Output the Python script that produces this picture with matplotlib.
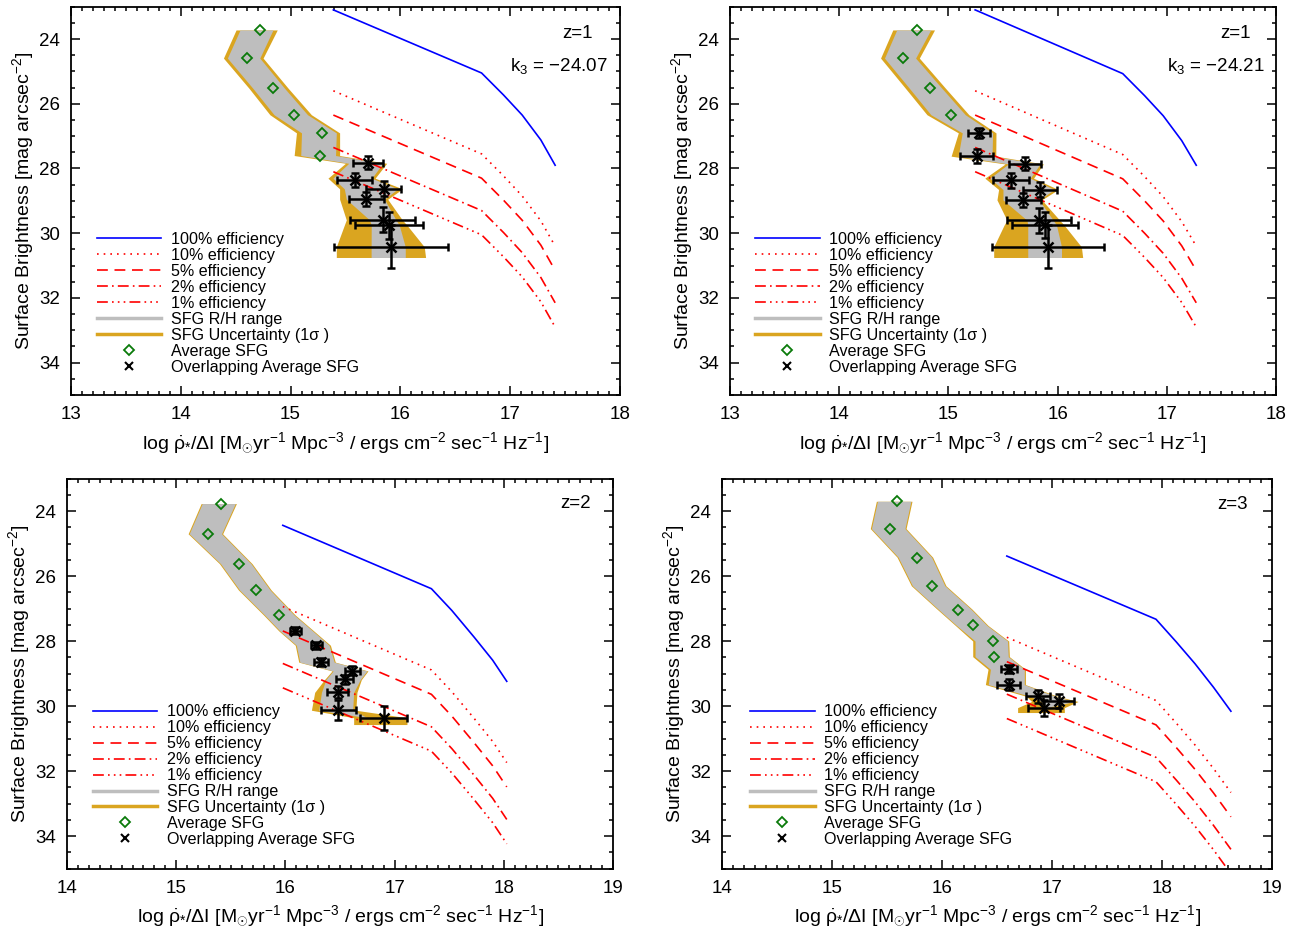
import numpy as np
import matplotlib
matplotlib.use("Agg")
import matplotlib.pyplot as plt
from matplotlib.lines import Line2D
from matplotlib.ticker import MultipleLocator

plt.rcParams['font.family'] = ['Liberation Sans', 'DejaVu Sans']
plt.rcParams['mathtext.fontset'] = 'custom'
plt.rcParams['mathtext.rm'] = 'Liberation Sans'
plt.rcParams['mathtext.it'] = 'Liberation Sans:italic'
plt.rcParams['mathtext.bf'] = 'Liberation Sans:bold'

# efficiency curves: 100% curve per panel, other curves are the same shape shifted down in mag
EFF_LABELS = ['100% efficiency', '10% efficiency', '5% efficiency', '2% efficiency', '1% efficiency']
EFF_OFFSET = [0.0, 2.5, 3.25, 4.25, 5.0]

# ---- panel 1 (top left, z=1, k3=-24.07)
TL_EFF_X = [15.39, 16.74, 16.94, 17.11, 17.28, 17.41]
TL_EFF_Y = [23.10, 25.05, 25.73, 26.35, 27.12, 27.90]
TL_SB = [23.72, 24.59, 25.52, 26.34, 26.90, 27.60, 27.84, 28.30, 28.63, 28.95, 29.59, 29.75, 30.42, 30.75]
TL_GOLD_L = [14.504, 14.389, 14.621, 14.812, 15.054, 15.033, 15.50, 15.341, 15.447, 15.447, 15.508, 15.49, 15.417, 15.417]
TL_GRAY_L = [14.54, 14.425, 14.656, 14.85, 15.10, 15.093, 15.53, 15.386, 15.49, 15.508, 15.72, 15.735, 15.734, 15.734]
TL_GRAY_R = [14.84, 14.72, 14.945, 15.155, 15.417, 15.41, 15.84, 15.74, 15.976, 15.855, 15.96, 15.99, 16.045, 16.045]
TL_GOLD_R = [14.879, 14.75, 14.978, 15.19, 15.447, 15.447, 15.876, 15.77, 16.02, 15.885, 16.018, 16.06, 16.218, 16.23]
TL_AVG_X = [14.722, 14.601, 14.843, 15.033, 15.29, 15.272]
TL_AVG_Y = [23.72, 24.59, 25.52, 26.34, 26.90, 27.62]
TL_OV_X = [15.704, 15.583, 15.849, 15.69, 15.84, 15.894, 15.915]
TL_OV_Y = [27.82, 28.36, 28.63, 28.95, 29.59, 29.75, 30.42]
TL_OV_XE = [0.136, 0.163, 0.159, 0.162, 0.295, 0.31, 0.52]
TL_OV_YE = [0.196, 0.227, 0.23, 0.22, 0.386, 0.42, 0.67]

# ---- panel 2 (top right, z=1, k3=-24.21)
TR_EFF_X = [15.245, 16.597, 16.797, 16.967, 17.137, 17.27]
TR_EFF_Y = [23.10, 25.07, 25.75, 26.37, 27.14, 27.90]
TR_SB = [23.72, 24.59, 25.52, 26.34, 26.90, 27.62, 27.86, 28.30, 28.65, 28.97, 29.60, 29.75, 30.42, 30.75]
TR_GOLD_L = [14.491, 14.379, 14.606, 14.804, 15.091, 15.025, 15.52, 15.334, 15.46, 15.445, 15.536, 15.51, 15.415, 15.415]
TR_GRAY_L = [14.527, 14.415, 14.642, 14.84, 15.127, 15.09, 15.55, 15.38, 15.50, 15.50, 15.72, 15.727, 15.727, 15.727]
TR_GRAY_R = [14.838, 14.70, 14.94, 15.155, 15.405, 15.40, 15.84, 15.75, 15.97, 15.83, 15.96, 15.99, 16.036, 16.036]
TR_GOLD_R = [14.873, 14.734, 14.973, 15.188, 15.436, 15.434, 15.87, 15.78, 16.006, 15.855, 16.02, 16.06, 16.218, 16.23]
TR_AVG_X = [14.713, 14.588, 14.831, 15.025]
TR_AVG_Y = [23.72, 24.59, 25.52, 26.34]
TR_OV_X = [15.279, 15.258, 15.703, 15.576, 15.843, 15.685, 15.827, 15.885, 15.912]
TR_OV_Y = [26.90, 27.62, 27.86, 28.37, 28.65, 28.97, 29.60, 29.75, 30.42]
TR_OV_XE = [0.10, 0.15, 0.144, 0.164, 0.156, 0.159, 0.294, 0.30, 0.51]
TR_OV_YE = [0.15, 0.21, 0.20, 0.23, 0.23, 0.22, 0.39, 0.41, 0.66]

# ---- panel 3 (bottom left, z=2)
BL_EFF_X = [15.976, 17.337, 17.524, 17.728, 17.898, 18.027]
BL_EFF_Y = [24.44, 26.39, 27.06, 27.88, 28.59, 29.24]
BL_SB = [23.77, 24.70, 25.62, 26.43, 27.20, 27.69, 28.13, 28.65, 28.92, 29.19, 29.58, 30.13, 30.36, 30.57]
BL_GOLD_L = [15.228, 15.109, 15.396, 15.57, 15.80, 15.94, 16.09, 16.122, 16.427, 16.357, 16.268, 16.238, 16.625, 16.625]
BL_GRAY_L = [15.238, 15.119, 15.406, 15.58, 15.81, 15.95, 16.10, 16.132, 16.437, 16.37, 16.33, 16.305, 16.75, 16.75]
BL_GRAY_R = [15.541, 15.415, 15.685, 15.86, 16.08, 16.25, 16.40, 16.447, 16.746, 16.685, 16.625, 16.616, 16.75, 16.75]
BL_GOLD_R = [15.551, 15.425, 15.695, 15.87, 16.09, 16.26, 16.412, 16.457, 16.756, 16.695, 16.655, 16.645, 17.113, 17.113]
BL_AVG_X = [15.411, 15.292, 15.573, 15.735, 15.939]
BL_AVG_Y = [23.77, 24.70, 25.62, 26.43, 27.20]
BL_OV_X = [16.091, 16.284, 16.326, 16.613, 16.543, 16.479, 16.482, 16.899]
BL_OV_Y = [27.68, 28.13, 28.64, 28.91, 29.18, 29.57, 30.12, 30.36]
BL_OV_XE = [0.049, 0.049, 0.063, 0.066, 0.079, 0.095, 0.16, 0.213]
BL_OV_YE = [0.11, 0.10, 0.12, 0.14, 0.15, 0.19, 0.31, 0.37]

# ---- panel 4 (bottom right, z=3)
BR_EFF_X = [16.589, 17.945, 18.13, 18.30, 18.467, 18.626]
BR_EFF_Y = [25.385, 27.33, 28.03, 28.70, 29.42, 30.16]
BR_SB = [23.70, 24.54, 25.42, 26.30, 27.02, 27.52, 28.00, 28.48, 28.87, 29.34, 29.70, 29.86, 30.05, 30.20]
BR_GOLD_L = [15.403, 15.348, 15.591, 15.721, 15.955, 16.121, 16.279, 16.279, 16.418, 16.394, 16.765, 16.815, 16.687, 16.687]
BR_GRAY_L = [15.413, 15.358, 15.601, 15.731, 15.965, 16.131, 16.30, 16.30, 16.44, 16.42, 16.80, 16.90, 16.95, 16.95]
BR_GRAY_R = [15.717, 15.663, 15.905, 16.026, 16.263, 16.408, 16.596, 16.602, 16.748, 16.748, 17.03, 17.20, 16.95, 16.95]
BR_GOLD_R = [15.727, 15.673, 15.915, 16.036, 16.273, 16.418, 16.606, 16.612, 16.758, 16.758, 17.05, 17.237, 17.112, 17.112]
BR_AVG_X = [15.591, 15.529, 15.773, 15.905, 16.142, 16.282, 16.467, 16.47]
BR_AVG_Y = [23.70, 24.54, 25.43, 26.30, 27.03, 27.52, 27.99, 28.49]
BR_OV_X = [16.606, 16.606, 16.873, 17.061, 16.925]
BR_OV_Y = [28.87, 29.34, 29.70, 29.85, 30.05]
BR_OV_XE = [0.074, 0.103, 0.112, 0.143, 0.148]
BR_OV_YE = [0.128, 0.164, 0.195, 0.205, 0.246]

GOLD = '#DAA520'
GRAY = '#BEBEBE'
GREEN = '#0A7A0A'
EFF_STYLES = [('#0000FF', '-'),
              ('#FF0000', (0, (1, 3))),
              ('#FF0000', (0, (6.5, 4))),
              ('#FF0000', (0, (6.5, 2.5, 1, 2.5))),
              ('#FF0000', (0, (6.5, 2.5, 1, 2.5, 1, 2.5, 1, 2.5)))]

XLAB = r'log $\dot{\mathrm{\rho}}_{*}$/ΔI [M$_{\odot}$yr$^{-1}$ Mpc$^{-3}$ / ergs cm$^{-2}$ sec$^{-1}$ Hz$^{-1}$]'
YLAB = r'Surface Brightness [mag arcsec$^{-2}$]'


def draw_panel(ax, xlim, sb, gold_l, gray_l, gray_r, gold_r, eff_x, eff_y,
               avg_x, avg_y, ov_x, ov_y, ov_xe, ov_ye, notes, leg_anchor):
    ax.fill_betweenx(sb, gold_l, gold_r, color=GOLD, lw=0, zorder=1)
    ax.fill_betweenx(sb, gray_l, gray_r, color=GRAY, lw=0, zorder=2)
    for (c, ls), off in zip(EFF_STYLES, EFF_OFFSET):
        ax.plot(eff_x, np.array(eff_y) + off, color=c, ls=ls, lw=1.2, zorder=3)
    ax.plot(avg_x, avg_y, ls='none', marker='D', ms=5.5, mfc='none',
            mec=GREEN, mew=1.3, zorder=4)
    ax.errorbar(ov_x, ov_y, xerr=ov_xe, yerr=ov_ye, fmt='x', color='k', ms=7,
                mew=1.8, elinewidth=1.8, capsize=3, capthick=1.8, zorder=5)

    ax.set_xlim(*xlim)
    ax.set_ylim(35, 23)
    ax.xaxis.set_major_locator(MultipleLocator(1))
    ax.xaxis.set_minor_locator(MultipleLocator(0.1))
    ax.yaxis.set_major_locator(MultipleLocator(2))
    ax.yaxis.set_minor_locator(MultipleLocator(0.5))
    ax.tick_params(which='both', direction='in', top=True, right=True, width=1.1)
    ax.tick_params(which='major', length=6.5, labelsize=13.5, pad=8)
    ax.tick_params(which='minor', length=3)
    for s in ax.spines.values():
        s.set_linewidth(1.3)
    ax.set_xlabel(XLAB, fontsize=14, labelpad=5)
    ax.set_ylabel(YLAB, fontsize=14, labelpad=2)

    for tx, ty, txt in notes:
        ax.text(tx, ty, txt, transform=ax.transAxes, ha='right', va='center', fontsize=13.5)

    handles = [Line2D([], [], color=c, ls=ls, lw=1.2) for c, ls in EFF_STYLES]
    handles += [Line2D([], [], color=GRAY, lw=2.5),
                Line2D([], [], color=GOLD, lw=2.5),
                Line2D([], [], ls='none', marker='D', ms=5, mfc='none', mec=GREEN, mew=1.3),
                Line2D([], [], ls='none', marker='x', ms=6, mec='k', mew=1.5)]
    labels = EFF_LABELS + ['SFG R/H range', 'SFG Uncertainty (1σ )', 'Average SFG',
                           'Overlapping Average SFG']
    ax.legend(handles, labels, loc='lower left', bbox_to_anchor=leg_anchor,
              frameon=False, borderpad=0, borderaxespad=0, handlelength=4.0,
              handletextpad=0.6, labelspacing=0.06, fontsize=11.6)


fig = plt.figure(figsize=(13.04, 9.35), dpi=100)
ax1 = fig.add_axes([0.0544, 0.5775, 0.4210, 0.4154])
ax2 = fig.add_axes([0.5598, 0.5775, 0.4187, 0.4154])
ax3 = fig.add_axes([0.0514, 0.0711, 0.4187, 0.4171])
ax4 = fig.add_axes([0.5537, 0.0711, 0.4218, 0.4171])

draw_panel(ax1, (13, 18), TL_SB, TL_GOLD_L, TL_GRAY_L, TL_GRAY_R, TL_GOLD_R,
           TL_EFF_X, TL_EFF_Y, TL_AVG_X, TL_AVG_Y, TL_OV_X, TL_OV_Y, TL_OV_XE, TL_OV_YE,
           [(0.951, 0.932, 'z=1'), (0.977, 0.847, 'k$_3$ = −24.07')], (0.047, 0.052))
draw_panel(ax2, (13, 18), TR_SB, TR_GOLD_L, TR_GRAY_L, TR_GRAY_R, TR_GOLD_R,
           TR_EFF_X, TR_EFF_Y, TR_AVG_X, TR_AVG_Y, TR_OV_X, TR_OV_Y, TR_OV_XE, TR_OV_YE,
           [(0.954, 0.932, 'z=1'), (0.980, 0.847, 'k$_3$ = −24.21')], (0.046, 0.052))
draw_panel(ax3, (14, 19), BL_SB, BL_GOLD_L, BL_GRAY_L, BL_GRAY_R, BL_GOLD_R,
           BL_EFF_X, BL_EFF_Y, BL_AVG_X, BL_AVG_Y, BL_OV_X, BL_OV_Y, BL_OV_XE, BL_OV_YE,
           [(0.959, 0.936, 'z=2')], (0.0476, 0.055))
draw_panel(ax4, (14, 19), BR_SB, BR_GOLD_L, BR_GRAY_L, BR_GRAY_R, BR_GOLD_R,
           BR_EFF_X, BR_EFF_Y, BR_AVG_X, BR_AVG_Y, BR_OV_X, BR_OV_Y, BR_OV_XE, BR_OV_YE,
           [(0.956, 0.933, 'z=3')], (0.051, 0.055))

fig.savefig('out.png', dpi=100)
